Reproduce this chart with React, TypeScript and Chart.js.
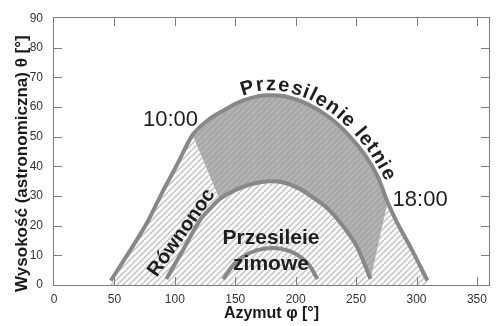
import React, { useEffect, useRef } from 'react';
import { Chart, registerables } from 'chart.js';

Chart.register(...registerables);

// ---- data (azimuth in degrees, altitude in degrees) ----
const summerAz = [47, 62, 77, 90, 101.5, 114.7, 127, 140, 155, 170, 180, 192, 210, 228, 244, 258, 268, 276, 284, 296, 309];
const summerAlt = [1.5, 11, 21, 31.6, 40.3, 50.6, 55.5, 58.8, 62, 63.8, 64, 63.6, 61, 56.5, 50.5, 43.5, 36.5, 28, 21, 12, 1.5];

const equinoxAz = [93, 107, 121, 131, 137, 150, 163, 177, 190, 203, 214, 226, 237, 250, 262];
const equinoxAlt = [2, 12, 22, 26.5, 29, 32, 34, 35, 34.6, 32.5, 29.6, 26, 21, 13.5, 2];

const winterAz = [140, 150, 162, 175, 188, 201, 211, 218];
const winterAlt = [2, 7.5, 10.8, 12.3, 12.2, 10.3, 6.8, 2];

// hour markers bounding the shaded region
const summerMorningAz = 114.7; // 10:00
const summerEveningAz = 276; // 18:00
const equinoxMorningAz = 137;

// axes
const xMin = 0;
const xMax = 360;
const xStep = 50;
const yMin = 0;
const yMax = 90;
const yStep = 10;
const xTitle = 'Azymut φ [°]';
const yTitle = 'Wysokość (astronomiczna) θ [°]';

// text annotations (data coordinates)
const annotations = [
  { text: '10:00', az: 96.4, alt: 55.6, rot: 0, bold: false, size: 22 },
  { text: '18:00', az: 303, alt: 28.8, rot: 0, bold: false, size: 22 },
  { text: 'Przesileie', az: 179.6, alt: 15.8, rot: 0, bold: true, size: 21 },
  { text: 'zimowe', az: 179.6, alt: 7.1, rot: 0, bold: true, size: 21 },
  { text: 'Równonoc', az: 105.5, alt: 17.6, rot: -55, bold: true, size: 20 },
];
const curveLabel = { text: 'Przesilenie letnie', startAz: 157, offset: 5, size: 20, spacing: 0.8 };

const FONT = '"Liberation Sans", Arial, Helvetica, sans-serif';
const TENSION = 0.3;

function makeHatch(bg: string, stripe: string, size: number, lw: number) {
  const c = document.createElement('canvas');
  c.width = size;
  c.height = size;
  const g = c.getContext('2d')!;
  g.fillStyle = bg;
  g.fillRect(0, 0, size, size);
  g.strokeStyle = stripe;
  g.lineWidth = lw;
  g.beginPath();
  for (let k = -1; k <= 1; k++) {
    g.moveTo(k * size, size);
    g.lineTo(k * size + size, 0);
  }
  g.stroke();
  return g.createPattern(c, 'repeat')!;
}

const toPts = (az: number[], alt: number[]) => az.map((x, i) => ({ x, y: alt[i] }));

const framePlugin = {
  id: 'frame',
  afterDatasetsDraw(chart: any) {
    const { ctx, chartArea: a, scales } = chart;
    const xs = scales.x;
    const ys = scales.y;
    ctx.save();
    ctx.strokeStyle = '#7d7d7d';
    ctx.lineWidth = 1;
    ctx.strokeRect(Math.round(a.left) - 0.5, Math.round(a.top) - 0.5, Math.round(a.right - a.left) + 1, Math.round(a.bottom - a.top) + 1);
    ctx.beginPath();
    const tl = 8;
    xs.ticks.forEach((t: any) => {
      const px = Math.round(xs.getPixelForValue(t.value)) + 0.5;
      if (px <= a.left + 1 || px >= a.right - 1) return;
      ctx.moveTo(px, a.bottom);
      ctx.lineTo(px, a.bottom - tl);
      ctx.moveTo(px, a.top);
      ctx.lineTo(px, a.top + tl);
    });
    ys.ticks.forEach((t: any) => {
      const py = Math.round(ys.getPixelForValue(t.value)) + 0.5;
      if (py <= a.top + 1 || py >= a.bottom - 1) return;
      ctx.moveTo(a.left, py);
      ctx.lineTo(a.left + tl, py);
      ctx.moveTo(a.right, py);
      ctx.lineTo(a.right - tl, py);
    });
    ctx.stroke();

    // axis titles
    ctx.fillStyle = '#1a1a1a';
    ctx.textAlign = 'center';
    ctx.textBaseline = 'middle';
    ctx.font = `bold 16px ${FONT}`;
    ctx.fillText(xTitle, (a.left + a.right) / 2, a.bottom + 29);
    ctx.save();
    ctx.translate(22, (a.top + a.bottom) / 2 + 12);
    ctx.rotate(-Math.PI / 2);
    ctx.font = `bold 17px ${FONT}`;
    ctx.fillText(yTitle, 0, 0);
    ctx.restore();
    ctx.restore();
  },
};

const labelsPlugin = {
  id: 'labels',
  afterDatasetsDraw(chart: any) {
    const { ctx, scales } = chart;
    const xs = scales.x;
    const ys = scales.y;
    ctx.save();
    ctx.fillStyle = '#1e1e1e';
    ctx.textAlign = 'center';
    ctx.textBaseline = 'middle';
    annotations.forEach((an) => {
      ctx.save();
      ctx.translate(xs.getPixelForValue(an.az), ys.getPixelForValue(an.alt));
      ctx.rotate((an.rot * Math.PI) / 180);
      ctx.font = `${an.bold ? 'bold ' : ''}${an.size}px ${FONT}`;
      ctx.fillText(an.text, 0, 0);
      ctx.restore();
    });

    // text along the summer-solstice curve
    const meta = chart.getDatasetMeta(2);
    const pts = meta.data.map((p: any) => ({ x: p.x, y: p.y }));
    const cum = [0];
    for (let i = 1; i < pts.length; i++) {
      cum.push(cum[i - 1] + Math.hypot(pts[i].x - pts[i - 1].x, pts[i].y - pts[i - 1].y));
    }
    const at = (s: number) => {
      let i = 1;
      while (i < pts.length - 1 && cum[i] < s) i++;
      const t = (s - cum[i - 1]) / (cum[i] - cum[i - 1]);
      return { x: pts[i - 1].x + (pts[i].x - pts[i - 1].x) * t, y: pts[i - 1].y + (pts[i].y - pts[i - 1].y) * t };
    };
    const startPx = xs.getPixelForValue(curveLabel.startAz);
    let s = 0;
    while (s < cum[cum.length - 1] && at(s).x < startPx) s += 0.5;
    ctx.font = `bold ${curveLabel.size}px ${FONT}`;
    ctx.textBaseline = 'alphabetic';
    for (const ch of curveLabel.text) {
      const w = ctx.measureText(ch).width;
      const m = s + w / 2;
      const p = at(m);
      const p1 = at(m - 7);
      const p2 = at(m + 7);
      let tx = p2.x - p1.x;
      let ty = p2.y - p1.y;
      const len = Math.hypot(tx, ty) || 1;
      tx /= len;
      ty /= len;
      const nx = ty;
      const ny = -tx;
      ctx.save();
      ctx.translate(p.x + nx * curveLabel.offset, p.y + ny * curveLabel.offset);
      ctx.rotate(Math.atan2(ty, tx));
      ctx.fillText(ch, 0, 0);
      ctx.restore();
      s += w + curveLabel.spacing;
    }
    ctx.restore();
  },
};

export default function App() {
  const ref = useRef<HTMLCanvasElement>(null);
  useEffect(() => {
    document.body.style.margin = '0';
    const canvas = ref.current!;
    const summer = toPts(summerAz, summerAlt);
    const equinox = toPts(equinoxAz, equinoxAlt);
    const winter = toPts(winterAz, winterAlt);
    const i10 = summerAz.indexOf(summerMorningAz);
    const i18 = summerAz.indexOf(summerEveningAz);
    const j10 = equinoxAz.indexOf(equinoxMorningAz);
    const darkPoly = [...summer.slice(i10, i18 + 1), ...equinox.slice(j10).reverse()];

    const lightHatch = makeHatch('#fbfbfb', '#c2c2c2', 6, 1.4);
    const darkHatch = makeHatch('#a8a8a8', '#b8b8b8', 6, 1.4);
    const lineColor = '#888888';

    const chart = new Chart(canvas, {
      type: 'scatter',
      data: {
        datasets: [
          {
            data: summer,
            showLine: true,
            borderWidth: 0,
            pointRadius: 0,
            fill: 'origin',
            backgroundColor: lightHatch as any,
            tension: TENSION,
            order: 3,
          },
          {
            data: darkPoly,
            showLine: true,
            borderWidth: 0,
            pointRadius: 0,
            fill: 'shape',
            backgroundColor: darkHatch as any,
            tension: 0,
            order: 2,
          },
          {
            data: summer,
            showLine: true,
            borderColor: lineColor,
            borderWidth: 4,
            pointRadius: 0,
            fill: false,
            tension: TENSION,
            order: 0,
          },
          {
            data: equinox,
            showLine: true,
            borderColor: lineColor,
            borderWidth: 4,
            pointRadius: 0,
            fill: false,
            tension: TENSION,
            order: 0,
          },
          {
            data: winter,
            showLine: true,
            borderColor: lineColor,
            borderWidth: 4,
            pointRadius: 0,
            fill: false,
            tension: TENSION,
            order: 0,
          },
        ] as any,
      },
      options: {
        animation: false,
        responsive: false,
        devicePixelRatio: 1,
        layout: { padding: { top: 6, right: 14, left: 0, bottom: 0 } },
        plugins: { legend: { display: false }, tooltip: { enabled: false } },
        scales: {
          x: {
            type: 'linear',
            min: xMin,
            max: xMax,
            ticks: { stepSize: xStep, includeBounds: false, color: '#333', font: { size: 12, family: FONT }, padding: 7 },
            grid: { display: false, drawTicks: false },
            border: { display: false },
            afterFit: (s: any) => {
              s.height = 41;
            },
          },
          y: {
            type: 'linear',
            min: yMin,
            max: yMax,
            ticks: { stepSize: yStep, includeBounds: false, color: '#333', font: { size: 12, family: FONT }, padding: 11 },
            grid: { display: false, drawTicks: false },
            border: { display: false },
            afterFit: (s: any) => {
              s.width = 54;
            },
          },
        },
      } as any,
      plugins: [framePlugin, labelsPlugin],
    });
    return () => chart.destroy();
  }, []);
  return (
    <div style={{ width: 503, height: 326 }}>
      <canvas ref={ref} width={503} height={326} />
    </div>
  );
}
